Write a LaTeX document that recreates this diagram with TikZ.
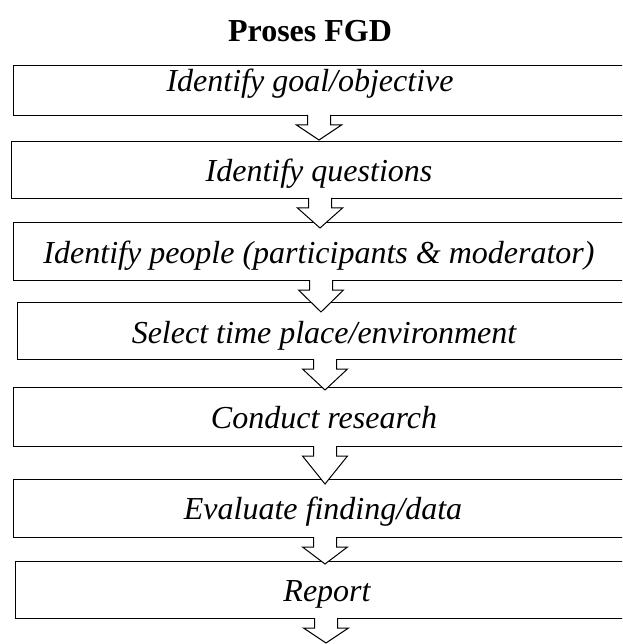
\documentclass[tikz,border=0pt]{standalone}
\usepackage{fontspec}
\setmainfont{Liberation Serif}
\usetikzlibrary{calc}

\tikzset{
  stepbox/.style={draw, line width=1pt, anchor=north west, inner sep=0pt, minimum width=627pt},
  steptext/.style={font=\fontsize{32}{38}\selectfont\itshape, anchor=base, inner sep=0pt},
  fatarrow/.style={draw, line width=1pt, fill=white, line join=miter}
}

\begin{document}
\begin{tikzpicture}[x=1pt, y=-1pt]

\useasboundingbox (0,0) rectangle (622,644);
\clip (0,0) rectangle (622,644);

\node [font=\fontsize{32}{38}\selectfont\bfseries, anchor=base, inner sep=0pt] (title) at (310,42) {Proses FGD};

% kotak proses
\foreach \x/\t/\b/\c/\y/\l [count=\i] in {
    13/65/115/310/92/{Identify goal/objective},
    11/141/198/319/182/{Identify questions},
    13/222/280/319/263/{Identify people (participants \& moderator)},
    17/302/359/324/343/{Select time place/environment},
    13/387/446/324/428/{Conduct research},
    13/479/537/323/519/{Evaluate finding/data},
    15/561/618/327/601/{Report}}
{
  \node [stepbox, minimum height=\b-\t] (step-\i) at (\x,\t) {};
  \node [steptext] (label-\i) at (\c,\y) {\l};
}

% panah blok
\foreach \ax/\ty [count=\i] in {319/140, 320/228, 321/312, 325/390, 325/484, 325/564, 326/643}
{
  \coordinate (tail-\i) at (step-\i.south -| \ax,0);
  \coordinate (tip-\i) at (\ax,\ty);
  \draw [fatarrow] (tail-\i) ++(-11.5,-1) -- ++(0,10) -- ++(-11,0) -- (tip-\i)
    -- ($(tail-\i)+(22.5,9)$) -- ++(-11,0) -- ++(0,-10);
}

\end{tikzpicture}
\end{document}
